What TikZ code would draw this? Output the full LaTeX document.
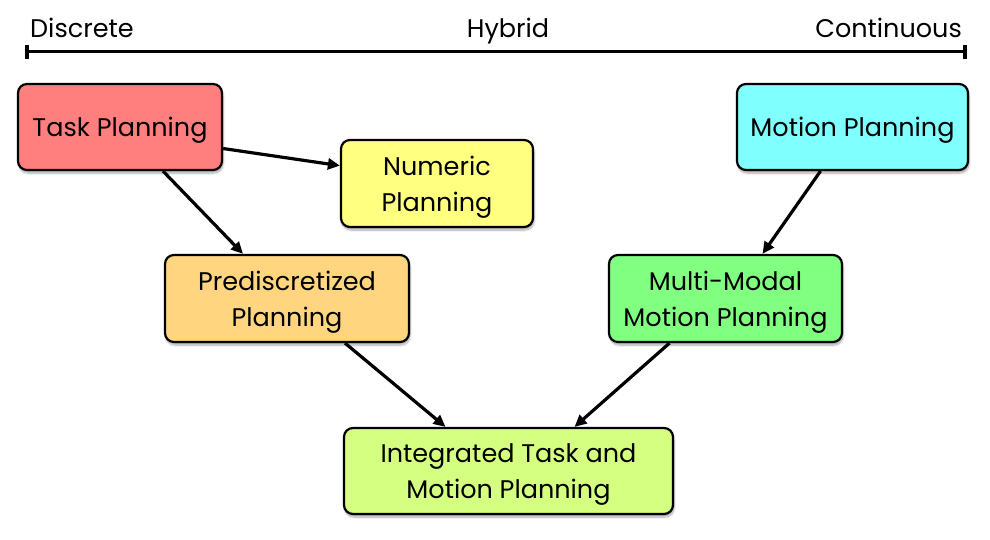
\documentclass[tikz,border=0pt]{standalone}
\usepackage{fontspec}
\setmainfont{Poppins}
\usetikzlibrary{arrows.meta,shadows.blur,calc}
\definecolor{cTask}{HTML}{FF7F7F}
\definecolor{cNum}{HTML}{FFFF80}
\definecolor{cMot}{HTML}{80FFFF}
\definecolor{cPre}{HTML}{FFD580}
\definecolor{cMul}{HTML}{80FF80}
\definecolor{cInt}{HTML}{D5FF80}
\tikzset{
  box/.style={draw=black, line width=2.2pt, rounded corners=9pt, align=center,
    inner sep=0pt, text depth=0pt, font=\fontsize{25.5}{36}\selectfont,
    blur shadow={shadow xshift=1pt, shadow yshift=-3pt, shadow blur steps=6, shadow opacity=35}},
  conn/.style={line width=3.2pt, -{Triangle[length=12pt,width=11pt]}},
  scalelbl/.style={font=\fontsize{25.5}{28}\selectfont, inner sep=0pt, anchor=base},
}
\begin{document}
\begin{tikzpicture}[x=1pt,y=-1pt]
\useasboundingbox (0,0) rectangle (990,540);
% scale
\coordinate (sl) at (27,52);
\coordinate (sr) at (965,52);
\draw[line width=3pt] (sl) -- (sr);
\draw[line width=3.4pt] ($(sl)+(0,-7)$) -- ($(sl)+(0,7)$);
\draw[line width=3.4pt] ($(sr)+(0,-7)$) -- ($(sr)+(0,7)$);
\node[scalelbl, anchor=base west] (disc) at (30,38) {Discrete};
\node[scalelbl] (hyb) at (508,38) {Hybrid};
\node[scalelbl, anchor=base east] (cont) at (962,38) {Continuous};
% boxes
\node[box, fill=cTask, minimum width=204pt, minimum height=86pt] (task) at (120,127) {Task Planning};
\node[box, fill=cNum, minimum width=192pt, minimum height=87pt] (num) at (437,183.5) {Numeric\\Planning};
\node[box, fill=cMot, minimum width=231pt, minimum height=86pt] (mot) at (852.5,127) {Motion Planning};
\node[box, fill=cPre, minimum width=244pt, minimum height=87pt] (pre) at (287,298.5) {Prediscretized\\Planning};
\node[box, fill=cMul, minimum width=233pt, minimum height=87pt] (mul) at (725.5,298.5) {Multi-Modal\\Motion Planning};
\node[box, fill=cInt, minimum width=329pt, minimum height=86pt] (int) at (508.5,471) {Integrated Task and\\Motion Planning};
% connectors
\draw[conn] ($(task.south east)!0.256!(task.north east)$) -- ($(num.south west)!0.7!(num.north west)$);
\draw[conn] ([xshift=43pt]task.south) -- ([xshift=-44pt]pre.north);
\draw[conn] ([xshift=-32pt]mot.south) -- ([xshift=37pt]mul.north);
\draw[conn] ([xshift=58pt]pre.south) -- ([xshift=-63pt]int.north);
\draw[conn] ([xshift=-56pt]mul.south) -- ([xshift=66pt]int.north);
\end{tikzpicture}
\end{document}
